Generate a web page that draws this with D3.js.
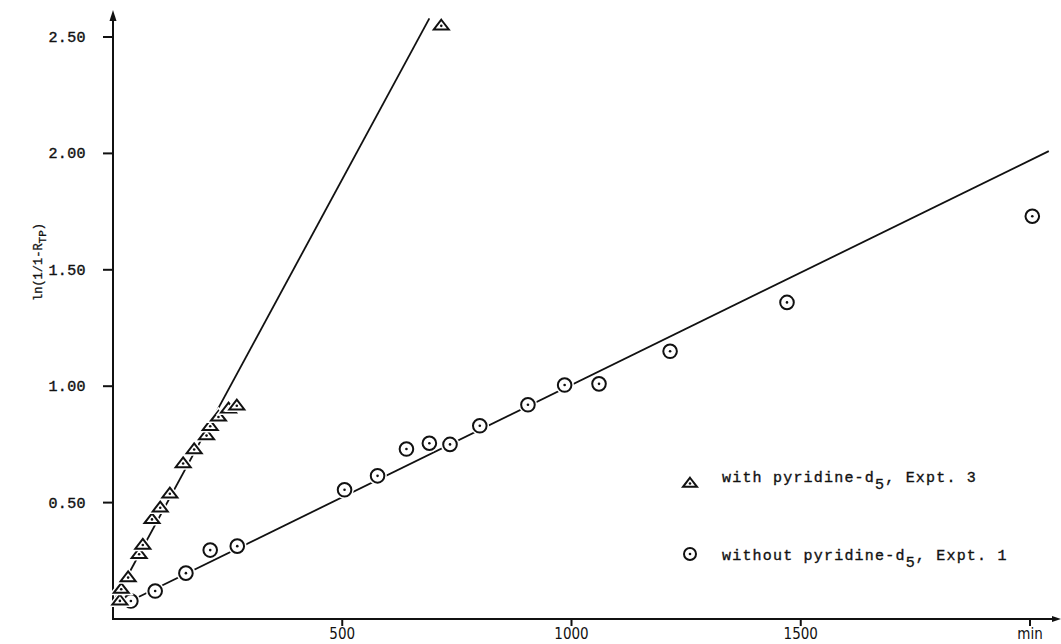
<!DOCTYPE html>
<html>
<head>
<meta charset="utf-8">
<script src="https://cdn.jsdelivr.net/npm/d3@7"></script>
<style>
body { margin: 0; background: #fff; }
text { fill: #111; }
</style>
</head>
<body>
<svg id="chart" width="1061" height="644"></svg>
<script>
// axis ticks
var xTicks = [500, 1000, 1500, 2000];
var xTickLabels = ["500", "1000", "1500", "min"];
var yTicks = [0.5, 1.0, 1.5, 2.0, 2.5];
var yTickLabels = ["0.50", "1.00", "1.50", "2.00", "2.50"];

// with pyridine-d5, Expt. 3 (triangles)
var triTime  = [15, 18, 33, 57, 65, 85, 103, 124, 153, 177, 204, 212, 230, 252, 270, 716];
var triValue = [0.08, 0.13, 0.18, 0.28, 0.32, 0.43, 0.48, 0.54, 0.67, 0.73, 0.79, 0.83, 0.87, 0.905, 0.918, 2.55];

// without pyridine-d5, Expt. 1 (circles)
var circTime  = [39, 92, 159, 212, 271, 505, 577, 640, 690, 735, 800, 905, 985, 1060, 1215, 1470, 2005];
var circValue = [0.077, 0.12, 0.197, 0.296, 0.313, 0.555, 0.615, 0.73, 0.755, 0.75, 0.83, 0.92, 1.005, 1.01, 1.15, 1.36, 1.73];

// fitted straight lines, [time, value] end points
var triFit  = [[0, 0.07], [690, 2.58]];
var circFit = [[20, 0.06], [2041, 2.01]];

var legendLabels = [["with pyridine-d", "5", ", Expt. 3"], ["without pyridine-d", "5", ", Expt. 1"]];

var svg = d3.select("#chart");
var x = d3.scaleLinear().domain([0, 2000]).range([113, 1030]);
var y = d3.scaleLinear().domain([0, 2.5]).range([619, 37]);

var ink = "#111";
var monoFont = "'Liberation Mono', 'DejaVu Sans Mono', monospace";

// axes
svg.append("line").attr("x1", x(0)).attr("y1", y(0)).attr("x2", x(0)).attr("y2", 16)
	.attr("stroke", ink).attr("stroke-width", 2);
svg.append("path").attr("d", "M" + x(0) + ",10 L" + (x(0) - 3.5) + ",21 L" + (x(0) + 3.5) + ",21 Z").attr("fill", ink);
svg.append("line").attr("x1", x(0) - 1).attr("y1", y(0)).attr("x2", 1056).attr("y2", y(0))
	.attr("stroke", ink).attr("stroke-width", 2);
svg.append("path").attr("d", "M1061," + y(0) + " L1052," + (y(0) - 3) + " L1052," + (y(0) + 3) + " Z").attr("fill", ink);

// y ticks
svg.selectAll("line.ytick").data(yTicks).enter().append("line").attr("class", "ytick")
	.attr("x1", x(0) - 10).attr("x2", x(0)).attr("y1", function(d){ return y(d); }).attr("y2", function(d){ return y(d); })
	.attr("stroke", ink).attr("stroke-width", 2);
svg.selectAll("text.ylab").data(yTicks).enter().append("text").attr("class", "ylab")
	.attr("x", 86).attr("y", function(d){ return y(d) + 5; })
	.attr("text-anchor", "end").attr("font-family", monoFont).attr("font-size", 15)
	.attr("letter-spacing", 0.4).attr("stroke", ink).attr("stroke-width", 0.4)
	.text(function(d, i){ return yTickLabels[i]; });

// x ticks
svg.selectAll("line.xtick").data(xTicks).enter().append("line").attr("class", "xtick")
	.attr("y1", y(0)).attr("y2", y(0) + 7).attr("x1", function(d){ return x(d); }).attr("x2", function(d){ return x(d); })
	.attr("stroke", ink).attr("stroke-width", 2);
svg.selectAll("text.xlab").data(xTicks).enter().append("text").attr("class", "xlab")
	.attr("x", function(d){ return x(d); }).attr("y", 639)
	.attr("text-anchor", "middle").attr("font-family", "'DejaVu Sans Condensed', 'DejaVu Sans', sans-serif")
	.attr("font-stretch", "condensed").attr("font-size", 15)
	.text(function(d, i){ return xTickLabels[i]; });

// y axis title
var ytitle = svg.append("text").attr("transform", "translate(42,262) rotate(-90)")
	.attr("text-anchor", "middle").attr("font-family", monoFont).attr("font-size", 12)
	.attr("stroke", ink).attr("stroke-width", 0.3);
ytitle.append("tspan").text("ln(1/1-R");
ytitle.append("tspan").attr("dy", 4).attr("font-size", 11).text("TP");
ytitle.append("tspan").attr("dy", -4).text(")");

// fitted lines
[triFit, circFit].forEach(function(f){
	svg.append("path").attr("d", d3.line().x(function(d){ return x(d[0]); }).y(function(d){ return y(d[1]); })(f))
		.attr("fill", "none").attr("stroke", ink).attr("stroke-width", 1.8);
});

// markers
function triPath(s) {
	return "M0," + (-0.75 * s) + " L" + s + "," + (0.55 * s) + " L" + (-s) + "," + (0.55 * s) + " Z";
}
function drawTri(g, s) {
	g.append("path").attr("d", triPath(s)).attr("fill", "#fff").attr("stroke", "#fff").attr("stroke-width", 5);
	g.append("path").attr("d", triPath(s)).attr("fill", "#fff").attr("stroke", ink).attr("stroke-width", 2).attr("stroke-linejoin", "miter");
	g.append("circle").attr("cx", 0).attr("cy", 0.5).attr("r", 1.3).attr("fill", ink);
}
function drawCirc(g, r) {
	g.append("circle").attr("r", r).attr("fill", "#fff").attr("stroke", "#fff").attr("stroke-width", 5);
	g.append("circle").attr("r", r).attr("fill", "#fff").attr("stroke", ink).attr("stroke-width", 2);
	g.append("circle").attr("r", 1.3).attr("fill", ink);
}

svg.selectAll("g.circ").data(d3.zip(circTime, circValue)).enter().append("g").attr("class", "circ")
	.attr("transform", function(d){ return "translate(" + x(d[0]) + "," + y(d[1]) + ")"; })
	.each(function(){ drawCirc(d3.select(this), 6.8); });

svg.selectAll("g.tri").data(d3.zip(triTime, triValue)).enter().append("g").attr("class", "tri")
	.attr("transform", function(d){ return "translate(" + x(d[0]) + "," + y(d[1]) + ")"; })
	.each(function(){ drawTri(d3.select(this), 7.5); });

// legend
var legend = svg.selectAll("g.leg").data(legendLabels).enter().append("g").attr("class", "leg")
	.attr("transform", function(d, i){ return "translate(690," + (483 + i * 71) + ")"; });
legend.each(function(d, i){
	var g = d3.select(this);
	if (i === 0) drawTri(g, 7); else drawCirc(g, 6);
	var t = g.append("text").attr("x", 32).attr("y", i === 0 ? -1 : 6)
		.attr("font-family", monoFont).attr("font-size", 15).attr("letter-spacing", 1.2)
		.attr("stroke", ink).attr("stroke-width", 0.35);
	t.append("tspan").text(d[0]);
	t.append("tspan").attr("dy", 7).attr("font-size", 15).text(d[1]);
	t.append("tspan").attr("dy", -7).text(d[2]);
});
</script>
</body>
</html>
